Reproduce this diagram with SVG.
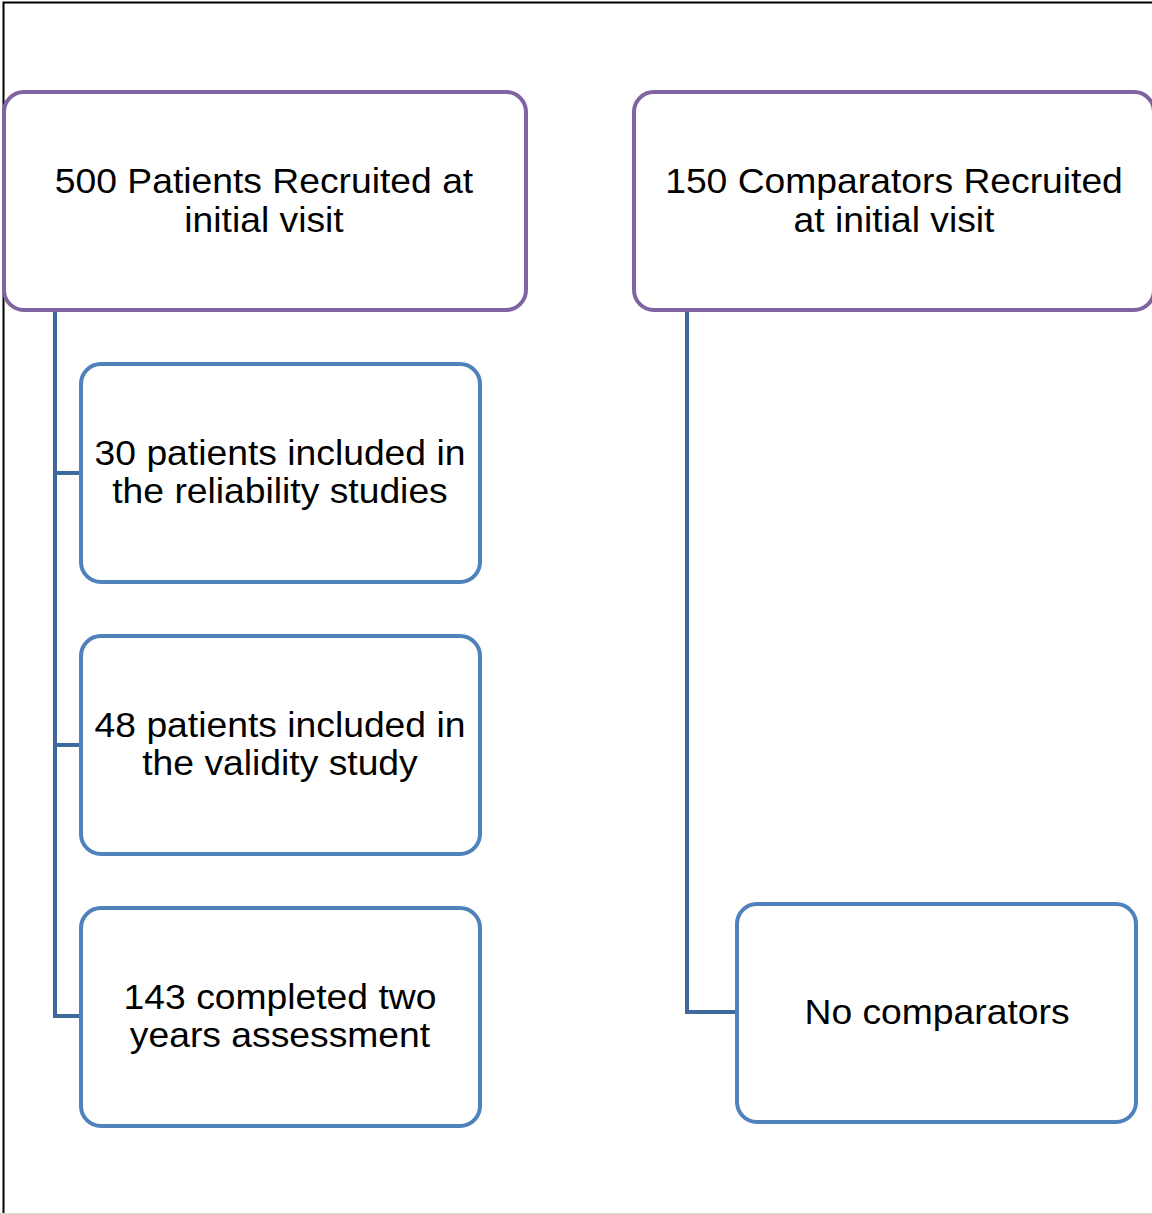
<svg xmlns="http://www.w3.org/2000/svg" width="1152" height="1214" viewBox="0 0 1152 1214">
<style>
.p{fill:#fff;stroke:#8064A2;stroke-width:4}
.b{fill:#fff;stroke:#4F81BD;stroke-width:4}
.c{fill:none;stroke:#3E6A9B;stroke-width:4;stroke-linejoin:miter}
text{font-family:"Liberation Sans",Arial,sans-serif;font-size:35px;fill:#000;text-anchor:middle}
</style>
<rect x="0" y="0" width="1152" height="1214" fill="#fff"/>
<path d="M3.5 1214V2.5H1152" fill="none" stroke="#000" stroke-width="2"/>
<line x1="0" y1="1213.5" x2="1152" y2="1213.5" stroke="#d9d9d9" stroke-width="1"/>
<g id="connectors">
<path class="c" d="M55 310V1016H81M55 473H81M55 745H81"/>
<path class="c" d="M687 310V1012H737"/>
</g>
<g id="n1"><rect class="p" x="4" y="92" width="522" height="218" rx="20"/>
<g transform="translate(264 0) scale(1.065 1)"><text x="0" y="193">500 Patients Recruited at</text><text x="0" y="232">initial visit</text></g></g>
<g id="n2"><rect class="p" x="634" y="92" width="520" height="218" rx="20"/>
<g transform="translate(894 0) scale(1.065 1)"><text x="0" y="193">150 Comparators Recruited</text><text x="0" y="232">at initial visit</text></g></g>
<g id="n3"><rect class="b" x="81" y="364" width="399" height="218" rx="20"/>
<g transform="translate(280 0) scale(1.065 1)"><text x="0" y="465">30 patients included in</text><text x="0" y="503">the reliability studies</text></g></g>
<g id="n4"><rect class="b" x="81" y="636" width="399" height="218" rx="20"/>
<g transform="translate(280 0) scale(1.065 1)"><text x="0" y="737">48 patients included in</text><text x="0" y="775">the validity study</text></g></g>
<g id="n5"><rect class="b" x="81" y="908" width="399" height="218" rx="20"/>
<g transform="translate(280 0) scale(1.065 1)"><text x="0" y="1009">143 completed two</text><text x="0" y="1047">years assessment</text></g></g>
<g id="n6"><rect class="b" x="737" y="904" width="399" height="218" rx="20"/>
<g transform="translate(937 0) scale(1.065 1)"><text x="0" y="1024">No comparators</text></g></g>
</svg>
